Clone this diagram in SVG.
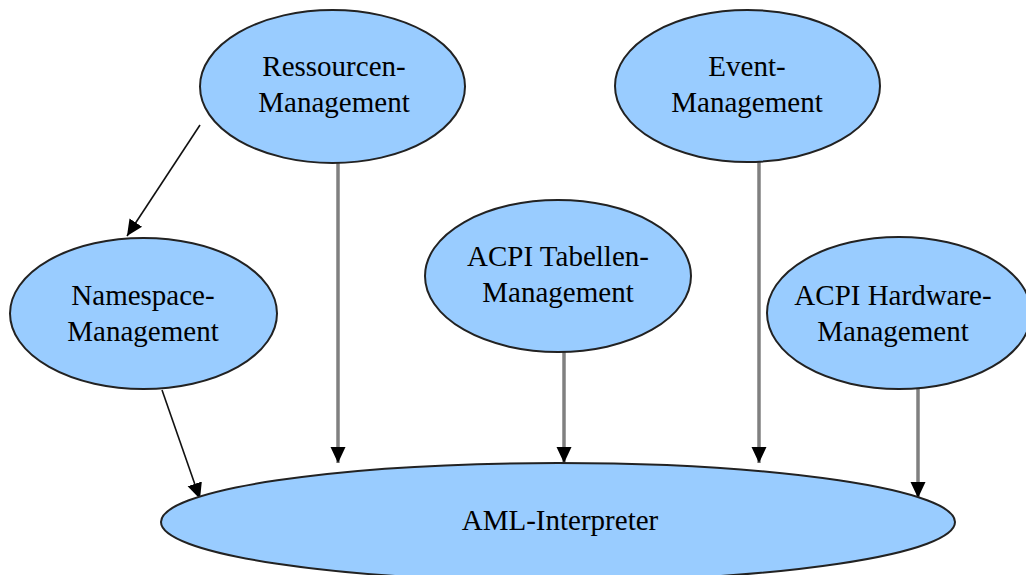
<svg xmlns="http://www.w3.org/2000/svg" width="1026" height="575" viewBox="0 0 1026 575">
<style>
.n ellipse{fill:#99ccff;stroke:#222;stroke-width:2}
.n text{font-family:"Liberation Serif","Times New Roman",serif;font-size:29px;fill:#000;text-anchor:middle}
.e{fill:none}
.thin{stroke:#111;stroke-width:1.6}
.thick{stroke:#808080;stroke-width:3.5}
</style>
<defs>
<marker id="ah" markerUnits="userSpaceOnUse" markerWidth="16" markerHeight="22" viewBox="0 0 16 22" refX="16" refY="11" orient="auto">
<path d="M0,3.5 L16,11 L0,18.5 Z" fill="#000"/>
</marker>
</defs>
<g id="connectors">
<line class="e thin" x1="200" y1="125" x2="127" y2="236" marker-end="url(#ah)"/>
<line class="e thick" x1="338" y1="163" x2="338" y2="463" marker-end="url(#ah)"/>
<line class="e thin" x1="162" y1="390" x2="200" y2="499" marker-end="url(#ah)"/>
<line class="e thick" x1="564" y1="352" x2="564" y2="463" marker-end="url(#ah)"/>
<line class="e thick" x1="759" y1="162" x2="759" y2="463" marker-end="url(#ah)"/>
<line class="e thick" x1="918" y1="389" x2="918" y2="498" marker-end="url(#ah)"/>
</g>
<g id="ressourcen" class="n">
<ellipse cx="332.5" cy="86.5" rx="132.5" ry="76.5"/>
<text x="334" y="76">Ressourcen-</text>
<text x="334" y="112">Management</text>
</g>
<g id="event" class="n">
<ellipse cx="747.5" cy="86" rx="132.5" ry="76"/>
<text x="747" y="76">Event-</text>
<text x="747" y="112">Management</text>
</g>
<g id="tabellen" class="n">
<ellipse cx="558" cy="276" rx="133" ry="76"/>
<text x="558" y="266">ACPI Tabellen-</text>
<text x="558" y="302">Management</text>
</g>
<g id="namespace" class="n">
<ellipse cx="143.5" cy="313.5" rx="133.5" ry="75.5"/>
<text x="143" y="305">Namespace-</text>
<text x="143" y="341">Management</text>
</g>
<g id="hardware" class="n">
<ellipse cx="899" cy="313" rx="132" ry="76"/>
<text x="893" y="305">ACPI Hardware-</text>
<text x="893" y="341">Management</text>
</g>
<g id="aml" class="n">
<ellipse cx="558" cy="522" rx="397" ry="59"/>
<text x="560" y="530">AML-Interpreter</text>
</g>
</svg>
